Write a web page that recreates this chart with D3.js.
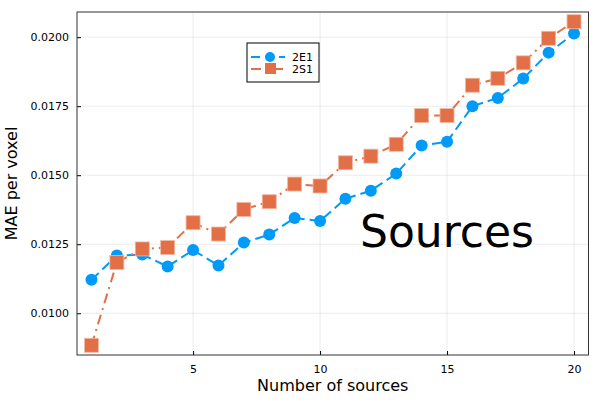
<!DOCTYPE html>
<html>
<head>
<meta charset="utf-8">
<script src="https://cdn.jsdelivr.net/npm/d3@7"></script>
<style>
  body { margin: 0; background: #fff; }
  svg { display: block; font-family: "DejaVu Sans", sans-serif; }
  .grid line { stroke: #000; stroke-opacity: 0.08; }
  .tick text { fill: #000; }
</style>
</head>
<body>
<svg id="chart"></svg>
<script>
/* DATA */
var sources = d3.range(1, 21);
var mae2E1 = [0.01121, 0.01209, 0.01213, 0.01169, 0.01229, 0.01173, 0.01256, 0.01285, 0.01345, 0.01334,
              0.01415, 0.01444, 0.01506, 0.01608, 0.01621, 0.01750, 0.01780, 0.01850, 0.01944, 0.02013];
var mae2S1 = [0.00884, 0.01184, 0.01233, 0.01238, 0.01328, 0.01287, 0.01376, 0.01404, 0.01468, 0.01461,
              0.01545, 0.01569, 0.01612, 0.01716, 0.01716, 0.01826, 0.01851, 0.01907, 0.01996, 0.02056];
var xTicks = [5, 10, 15, 20];
var yTicks = [0.0100, 0.0125, 0.0150, 0.0175, 0.0200];
var seriesNames = ["2E1", "2S1"];

/* SETUP */
var width = 600;
var height = 400;
var margin = {left: 77, right: 11.5, top: 12, bottom: 45};
var blue = "#009af9";
var orange = "#e26f46";

var svg = d3.select("svg#chart")
    .attr("width", width)
    .attr("height", height);

// widen extents by 3% like the original
function padded(ext) {
  var d = (ext[1] - ext[0]) * 0.03;
  return [ext[0] - d, ext[1] + d];
}

var x = d3.scaleLinear()
    .domain(padded(d3.extent(sources)))
    .range([margin.left, width - margin.right]);

var y = d3.scaleLinear()
    .domain(padded(d3.extent(mae2E1.concat(mae2S1))))
    .range([height - margin.bottom, margin.top]);

/* GRID */
svg.append("g").attr("class", "grid")
  .selectAll("line.v").data(xTicks).enter().append("line")
    .attr("x1", d => x(d)).attr("x2", d => x(d))
    .attr("y1", margin.top).attr("y2", height - margin.bottom);

svg.append("g").attr("class", "grid")
  .selectAll("line.h").data(yTicks).enter().append("line")
    .attr("y1", d => y(d)).attr("y2", d => y(d))
    .attr("x1", margin.left).attr("x2", width - margin.right);

/* AXES */
var xAxis = d3.axisBottom(x)
    .tickValues(xTicks)
    .tickSizeInner(-4)
    .tickSizeOuter(0)
    .tickPadding(10);

var yAxis = d3.axisLeft(y)
    .tickValues(yTicks)
    .tickFormat(d3.format(".4f"))
    .tickSizeInner(-4)
    .tickSizeOuter(0)
    .tickPadding(8);

svg.append("g")
    .attr("transform", translate(0, height - margin.bottom))
    .call(xAxis)
    .call(g => g.select(".domain").remove())
    .selectAll("text").style("font-size", "11px").style("font-family", "DejaVu Sans");

svg.append("g")
    .attr("transform", translate(margin.left, 0))
    .call(yAxis)
    .call(g => g.select(".domain").remove())
    .selectAll("text").style("font-size", "11px").style("font-family", "DejaVu Sans");

svg.selectAll(".tick line").attr("stroke", "#000");

// frame
svg.append("rect")
    .attr("x", margin.left)
    .attr("y", margin.top)
    .attr("width", width - margin.left - margin.right)
    .attr("height", height - margin.top - margin.bottom)
    .attr("fill", "none")
    .attr("stroke", "#333")
    .attr("stroke-width", 1);

/* LINES + MARKERS */
var line = d3.line()
    .x((d, i) => x(sources[i]))
    .y(d => y(d));

svg.append("path")
    .datum(mae2E1)
    .attr("d", line)
    .attr("fill", "none")
    .attr("stroke", blue)
    .attr("stroke-width", 2)
    .attr("stroke-dasharray", "10,5");

svg.append("path")
    .datum(mae2S1)
    .attr("d", line)
    .attr("fill", "none")
    .attr("stroke", orange)
    .attr("stroke-width", 2)
    .attr("stroke-dasharray", "10,5,2,5");

svg.append("g").selectAll("circle")
  .data(mae2E1).enter().append("circle")
    .attr("cx", (d, i) => x(sources[i]))
    .attr("cy", d => y(d))
    .attr("r", 6)
    .attr("fill", blue);

var sq = 14;
svg.append("g").selectAll("rect")
  .data(mae2S1).enter().append("rect")
    .attr("x", (d, i) => x(sources[i]) - sq / 2)
    .attr("y", d => y(d) - sq / 2)
    .attr("width", sq)
    .attr("height", sq)
    .attr("fill", orange)
    .attr("stroke", "#f0b9a5")
    .attr("stroke-width", 0.8);

/* ANNOTATION */
svg.append("text")
    .attr("x", x(15))
    .attr("y", y(0.0125) + 3)
    .attr("text-anchor", "middle")
    .style("font-size", "44px")
    .text("Sources");

/* AXIS LABELS */
svg.append("text")
    .attr("x", (margin.left + width - margin.right) / 2)
    .attr("y", 391)
    .attr("text-anchor", "middle")
    .style("font-size", "16px")
    .text("Number of sources");

svg.append("text")
    .attr("transform", translate(17, (margin.top + height - margin.bottom) / 2) + " rotate(-90)")
    .attr("text-anchor", "middle")
    .style("font-size", "16px")
    .text("MAE per voxel");

/* LEGEND */
var legend = svg.append("g").attr("transform", translate(247, 43));
legend.append("rect")
    .attr("width", 72)
    .attr("height", 39)
    .attr("fill", "#fff")
    .attr("stroke", "#000")
    .attr("stroke-width", 1);

var entries = legend.selectAll("g.entry")
  .data(seriesNames).enter().append("g")
    .attr("transform", (d, i) => translate(0, 14 + i * 12));

entries.append("line")
    .attr("x1", 4).attr("x2", 38)
    .attr("stroke", (d, i) => i ? orange : blue)
    .attr("stroke-width", 2)
    .attr("stroke-dasharray", (d, i) => i ? "10,5,2,5" : "9,5");

entries.filter((d, i) => i === 0).append("circle")
    .attr("cx", 23).attr("r", 5)
    .attr("fill", blue);

entries.filter((d, i) => i === 1).append("rect")
    .attr("x", 18).attr("y", -6).attr("width", 11).attr("height", 11)
    .attr("fill", orange);

entries.append("text")
    .attr("x", 45)
    .attr("y", 4)
    .style("font-size", "11px")
    .text(d => d);

/* HELPER FUNCTION */
function translate(x, y) {
  return 'translate(' + String(x) + ',' + String(y) + ')';
}
</script>
</body>
</html>
